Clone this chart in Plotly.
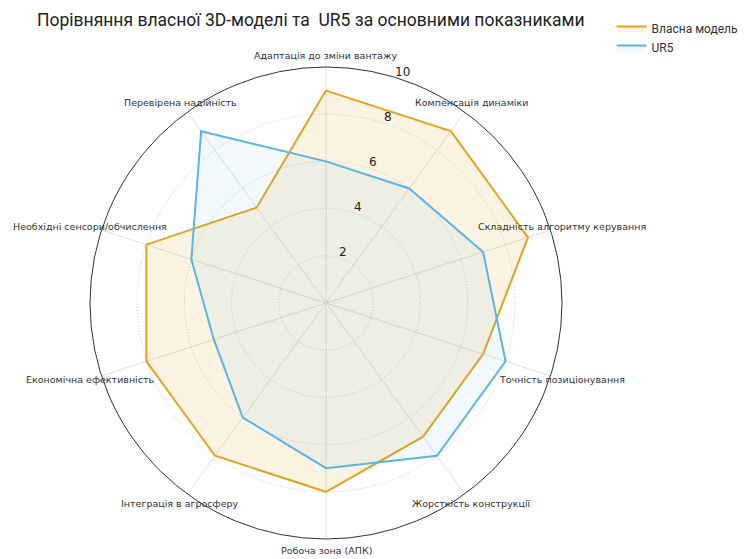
import math
import plotly.graph_objects as go

categories = [
    "Адаптація до зміни вантажу",
    "Компенсація динаміки",
    "Складність алгоритму керування",
    "Точність позиціонування",
    "Жорсткість конструкції",
    "Робоча зона (АПК)",
    "Інтеграція в агросферу",
    "Економічна ефективність",
    "Необхідні сенсори/обчислення",
    "Перевірена надійність",
]
own_model = [9, 9, 9, 7, 7, 8, 8, 8, 8, 5]
ur5 = [6, 6, 7, 8, 8, 7, 6, 5, 6, 9]
radial_ticks = [2, 4, 6, 8, 10]

title_text = "Порівняння власної 3D-моделі та  UR5 за основними показниками"

W, H = 755, 559
CX, CY, R = 326, 303, 236  # polar centre and radius in pixels
RMAX = 10

fig = go.Figure()
fig.add_trace(go.Scatterpolar(
    r=own_model + own_model[:1], theta=categories + categories[:1],
    mode="lines", name="Власна модель",
    line=dict(color="#E5A21E", width=2),
    fill="toself", fillcolor="rgba(229,162,30,0.13)",
))
fig.add_trace(go.Scatterpolar(
    r=ur5 + ur5[:1], theta=categories + categories[:1],
    mode="lines", name="UR5",
    line=dict(color="#5AB4E5", width=2),
    fill="toself", fillcolor="rgba(90,180,229,0.08)",
))

annotations = []
n = len(categories)
for i, cat in enumerate(categories):
    th = 2 * math.pi * i / n
    px = CX + R * 1.05 * math.sin(th)
    py = CY - R * 1.05 * math.cos(th)
    annotations.append(dict(
        text=cat, x=px / W, y=1 - py / H, xref="paper", yref="paper",
        xanchor="center", yanchor="middle", showarrow=False,
        font=dict(family="DejaVu Sans", size=9.5, color="#333"),
    ))
lab_th = math.radians(18.4)
for t in radial_ticks:
    rp = R * t / RMAX + 7
    px = CX + rp * math.sin(lab_th)
    py = CY - rp * math.cos(lab_th)
    annotations.append(dict(
        text=str(t), x=px / W, y=1 - py / H, xref="paper", yref="paper",
        xanchor="center", yanchor="middle", showarrow=False,
        font=dict(family="DejaVu Sans", size=12, color="#222"),
    ))

fig.update_layout(
    width=W, height=H,
    margin=dict(l=0, r=0, t=0, b=0),
    paper_bgcolor="white",
    plot_bgcolor="white",
    title=dict(text=title_text, x=37 / W, xanchor="left", y=1 - 20 / H, yanchor="middle",
               font=dict(family="Roboto", size=17.5, color="#222")),
    legend=dict(x=0.81, y=0.975, xanchor="left", yanchor="top",
                font=dict(family="Roboto", size=12, color="#333"),
                bgcolor="rgba(0,0,0,0)"),
    annotations=annotations,
    polar=dict(
        domain=dict(x=[(CX - R) / W, (CX + R) / W], y=[1 - (CY + R) / H, 1 - (CY - R) / H]),
        bgcolor="white",
        angularaxis=dict(
            rotation=90, direction="clockwise",
            showline=True, linecolor="#333", linewidth=1,
            gridcolor="#e0e0e0", gridwidth=1,
            ticks="", showticklabels=False,
        ),
        radialaxis=dict(
            range=[0, RMAX], tickvals=radial_ticks, angle=72,
            showline=False, ticks="", showticklabels=False,
            gridcolor="#c8c8c8", griddash="1px,2px", gridwidth=1,
        ),
    ),
)

fig.write_html("out.html")
